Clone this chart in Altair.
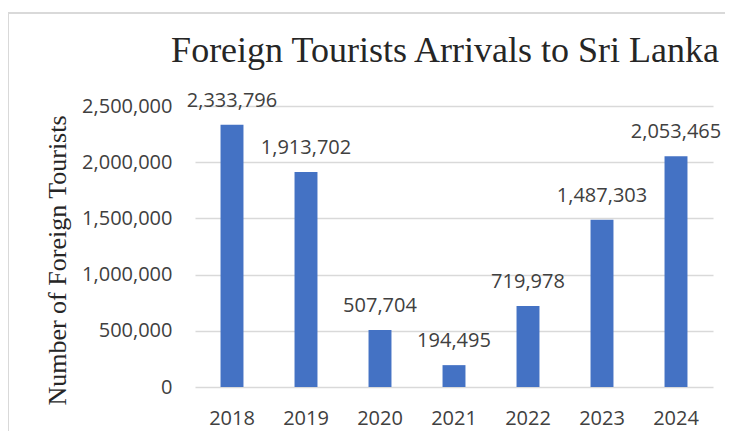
import altair as alt
import pandas as pd

years = ["2018", "2019", "2020", "2021", "2022", "2023", "2024"]
arrivals = [2333796, 1913702, 507704, 194495, 719978, 1487303, 2053465]
y_ticks = [0, 500000, 1000000, 1500000, 2000000, 2500000]

df = pd.DataFrame({"year": years, "arrivals": arrivals})

LABEL_FONT = "Open Sans"
SERIF = "Liberation Serif"
TXT = "#404040"

x_axis = alt.Axis(
    title=None, labelAngle=0, labelFont=LABEL_FONT, labelFontSize=20,
    labelColor=TXT, labelBaseline="alphabetic", labelPadding=37,
    ticks=False, domain=False, grid=False,
)
y_axis = alt.Axis(
    values=y_ticks, format=",.0f", title="Number of Foreign Tourists",
    titleFont=SERIF, titleFontSize=26, titleFontWeight="normal",
    titleColor="#262626", titleX=-130, titleY=154,
    titleBaseline="alphabetic", titleAlign="center",
    labelFont=LABEL_FONT, labelFontSize=20, labelColor=TXT,
    labelPadding=23, ticks=False, domain=False,
    grid=True, gridColor="#d9d9d9", gridWidth=1.3,
)
x_scale = alt.Scale(paddingInner=0.69, paddingOuter=0.345)
y_scale = alt.Scale(domain=[0, 2500000], nice=False)

bars = alt.Chart(df).mark_bar(color="#4472C4").encode(
    x=alt.X("year:N", sort=years, scale=x_scale, axis=x_axis),
    y=alt.Y("arrivals:Q", scale=y_scale, axis=y_axis),
)

labels = alt.Chart(df).mark_text(
    baseline="alphabetic", dy=-18, font=LABEL_FONT, fontSize=20, color=TXT
).encode(
    x=alt.X("year:N", sort=years, scale=x_scale, axis=x_axis),
    y=alt.Y("arrivals:Q", scale=y_scale, axis=y_axis),
    text=alt.Text("arrivals:Q", format=",.0f"),
)

frame = alt.Chart(df).mark_rect(
    fill=None, fillOpacity=0, stroke="#d9d9d9", strokeWidth=2
).encode(
    x=alt.value(-187), x2=alt.value(600), y=alt.value(-93), y2=alt.value(400)
).transform_filter(alt.datum.year == "2018")

chart = alt.layer(bars, labels, frame).properties(
    width=518,
    height=281,
    padding={"left": 187, "top": 98, "right": 12, "bottom": 44},
    autosize=alt.AutoSizeParams(type="none"),
    title=alt.TitleParams(
        "Foreign Tourists Arrivals to Sri Lanka",
        font=SERIF, fontSize=36, fontWeight="normal", color="#262626",
        anchor="middle", baseline="alphabetic", dx=-9, offset=0, dy=86,
    ),
).configure(background="white").configure_view(stroke=None)

chart.save("out.html", embed_options={"renderer": "svg", "actions": False})
